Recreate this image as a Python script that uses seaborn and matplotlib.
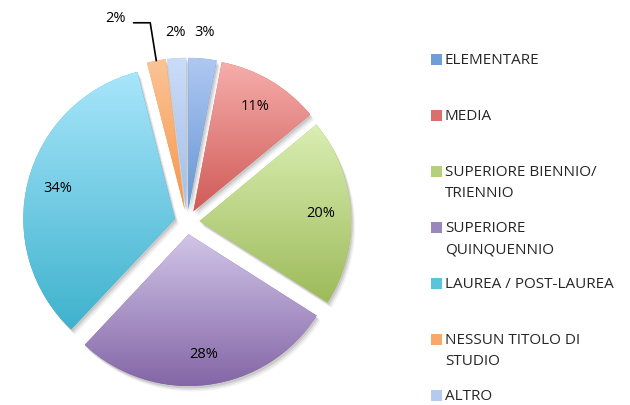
import numpy as np
import matplotlib
matplotlib.use("Agg")
import matplotlib.pyplot as plt
import seaborn as sns
from matplotlib.patches import Rectangle, Wedge
from matplotlib.colors import LinearSegmentedColormap

# data
categories = ["ELEMENTARE", "MEDIA", "SUPERIORE BIENNIO/\nTRIENNIO",
              "SUPERIORE\nQUINQUENNIO", "LAUREA / POST-LAUREA",
              "NESSUN TITOLO DI\nSTUDIO", "ALTRO"]
shares = [3, 11, 20, 28, 34, 2, 2]

# gradient colours (top -> bottom) per slice
top_colors = ["#AFC8F2", "#F6AEAC", "#DAEEB3", "#D2C5E8", "#A8E6FB", "#FBC496", "#CADCF8"]
bottom_colors = ["#6596D4", "#D05B57", "#9DBB5A", "#8366A6", "#3FB2CD", "#F7964A", "#A3BEE6"]
legend_colors = ["#6F9DD8", "#D9706C", "#B3D07A", "#9C86BE", "#5CC3DC", "#F9A86A", "#B3CBEE"]

sns.set_style("white")
plt.rcParams["font.family"] = ["Open Sans", "DejaVu Sans"]

fig = plt.figure(figsize=(6.3, 4.05), dpi=100)
ax = fig.add_axes([0.0079, 0.0025, 0.578, 0.899])

wedges, texts, autotexts = ax.pie(
    shares, startangle=90, counterclock=False, explode=[0.082] * len(shares),
    radius=1, pctdistance=0.8, autopct=lambda p: f"{p:.0f}%",
    textprops=dict(fontsize=10.5, color="black"), wedgeprops=dict(linewidth=0))

# soft shadows and vertical gradients
for w, c_top, c_bot in zip(wedges, top_colors, bottom_colors):
    for (ox, oy, a) in [(0.010, -0.016, 0.10), (0.018, -0.026, 0.07), (0.026, -0.036, 0.05)]:
        sh = Wedge((w.center[0] + ox, w.center[1] + oy), w.r, w.theta1, w.theta2,
                   facecolor="black", alpha=a, linewidth=0, zorder=0.5)
        ax.add_patch(sh)
    w.set_facecolor(c_bot)
    w.set_zorder(1)
    bb = w.get_path().get_extents()
    cmap = LinearSegmentedColormap.from_list("g", [c_top, c_bot])
    grad = np.linspace(0, 1, 256).reshape(-1, 1)
    im = ax.imshow(grad, cmap=cmap, extent=[bb.x0, bb.x1, bb.y0, bb.y1],
                   origin="upper", aspect="auto", zorder=1.5, interpolation="bilinear")
    im.set_clip_path(w)

for t in autotexts:
    t.set_zorder(3)

# small slices: labels outside
for idx in [0, 6]:
    w = wedges[idx]
    th = np.deg2rad((w.theta1 + w.theta2) / 2)
    autotexts[idx].set_position((w.center[0] + 1.17 * np.cos(th),
                                 w.center[1] + 1.17 * np.sin(th)))

w = wedges[5]
th = np.deg2rad((w.theta1 + w.theta2) / 2)
tip = np.array([w.center[0] + w.r * np.cos(th), w.center[1] + w.r * np.sin(th)])
elbow = tip + np.array([-0.04, 0.25])
end = elbow + np.array([-0.11, 0.0])
ax.plot([tip[0], elbow[0], end[0]], [tip[1], elbow[1], end[1]],
        color="black", lw=1.2, zorder=3, clip_on=False)
autotexts[5].set_position((end[0] - 0.05, end[1] + 0.03))
autotexts[5].set_ha("right")

ax.set_xlim(-1.2, 1.2)
ax.set_ylim(-1.2, 1.2)
ax.set_aspect("equal")
ax.axis("off")

# legend drawn by hand so that wrapped labels keep the marker on the first line
W, H = 630, 405
for i, (lab, col) in enumerate(zip(categories, legend_colors)):
    yc = 59 + i * 56.0
    fig.patches.append(Rectangle((431 / W, 1 - (yc + 5.5) / H), 11 / W, 11 / H,
                                 facecolor=col, edgecolor="none",
                                 transform=fig.transFigure, figure=fig))
    for j, line in enumerate(lab.split("\n")):
        fig.text(445 / W, 1 - (yc + 5 + j * 21) / H, line, fontsize=11,
                 ha="left", va="baseline")

fig.savefig("out.png", dpi=100)
